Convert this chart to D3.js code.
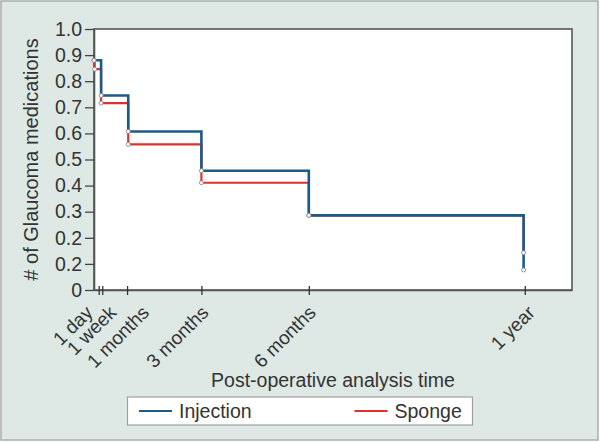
<!DOCTYPE html>
<html>
<head>
<meta charset="utf-8">
<script src="https://cdn.jsdelivr.net/npm/d3@7"></script>
<style>
  html, body { margin: 0; padding: 0; background: #fff; }
  svg { display: block; }
  text { font-family: "Liberation Sans", Arial, sans-serif; fill: #333; }
</style>
</head>
<body>
<svg id="chart" width="600" height="442"></svg>
<script>
// ---- data ----
const injectionDays   = [0, 6, 29, 91, 182, 364];
const injectionValues = [0.88, 0.745, 0.607, 0.457, 0.286, 0.077];
const spongeDays      = [0, 0.5, 6, 29, 91, 182, 364];
const spongeValues    = [0.88, 0.846, 0.716, 0.558, 0.411, 0.286, 0.143];

const xTickDays   = [4, 7, 28, 91, 182, 365];
const xTickLabels = ["1 day", "1 week", "1 months", "3 months", "6 months", "1 year"];
const yTickValues = [0, 0.1, 0.2, 0.3, 0.4, 0.5, 0.6, 0.7, 0.8, 0.9, 1.0];
const yTickLabels = ["0", "0.2", "0.2", "0.3", "0.4", "0.5", "0.6", "0.7", "0.8", "0.9", "1.0"];
const seriesNames = ["Injection", "Sponge"];
const seriesColors = ["#1b5b8a", "#e0302e"];

// ---- layout ----
const W = 600, H = 442;
const plot = { left: 94, right: 572, top: 29, bottom: 290 };
const labelShift = [-8, 12, 20, 5, 5, 8];   // horizontal nudge of rotated x labels

const svg = d3.select("#chart");

svg.append("rect").attr("x", 1).attr("y", 1).attr("width", W - 3).attr("height", H - 3)
  .attr("fill", "#dee9e5").attr("stroke", "#a8afad").attr("stroke-width", 1.5);

const x = d3.scaleLinear().domain([0, 405]).range([plot.left, plot.right]);
const y = d3.scaleLinear().domain([0, 1]).range([plot.bottom, plot.top]);

svg.append("rect").attr("x", plot.left).attr("y", plot.top)
  .attr("width", plot.right - plot.left).attr("height", plot.bottom - plot.top)
  .attr("fill", "#ffffff").attr("stroke", "#555").attr("stroke-width", 1.6);

// y axis
const yAxis = svg.append("g").attr("transform", `translate(${plot.left},0)`)
  .call(d3.axisLeft(y).tickValues(yTickValues)
    .tickFormat((d, i) => yTickLabels[i]).tickSizeInner(9).tickSizeOuter(0).tickPadding(3));
yAxis.select(".domain").attr("stroke", "#555").attr("stroke-width", 1.6);
yAxis.selectAll(".tick line").attr("stroke", "#444").attr("stroke-width", 1.3);
yAxis.selectAll(".tick text").attr("font-size", 19.5).attr("fill", "#333")
  .style("font-family", "Liberation Sans, Arial, sans-serif");

// x axis
const xAxis = svg.append("g").attr("transform", `translate(0,${plot.bottom})`)
  .call(d3.axisBottom(x).tickValues(xTickDays)
    .tickFormat((d, i) => xTickLabels[i]).tickSizeOuter(0));
xAxis.select(".domain").attr("stroke", "#555").attr("stroke-width", 1.6);
xAxis.selectAll(".tick line").attr("y1", -4).attr("y2", 5)
  .attr("stroke", "#333").attr("stroke-width", 1.3);
xAxis.selectAll(".tick text")
  .attr("font-size", 19).attr("fill", "#333")
  .style("font-family", "Liberation Sans, Arial, sans-serif")
  .attr("text-anchor", "end")
  .attr("y", 0).attr("dy", "0.35em")
  .attr("transform", (d, i) => `translate(${labelShift[i] - 2},19) rotate(-45)`);

// axis titles
svg.append("text").attr("x", (plot.left + plot.right) / 2).attr("y", 387)
  .attr("text-anchor", "middle").attr("font-size", 19.5)
  .text("Post-operative analysis time");
svg.append("text")
  .attr("transform", `translate(38,${(plot.top + plot.bottom) / 2}) rotate(-90)`)
  .attr("text-anchor", "middle").attr("font-size", 20)
  .text("# of Glaucoma medications");

// step curves
const line = d3.line().x(d => x(d[0])).y(d => y(d[1])).curve(d3.curveStepAfter);
const series = [
  { pts: d3.zip(spongeDays, spongeValues), color: seriesColors[1], w: 2.2 },
  { pts: d3.zip(injectionDays, injectionValues), color: seriesColors[0], w: 2.6 }
];
series.forEach(s => {
  svg.append("path").datum(s.pts).attr("d", line)
    .attr("fill", "none").attr("stroke", s.color).attr("stroke-width", s.w)
    .attr("stroke-linejoin", "miter");
});
series.forEach(s => {
  svg.append("g").selectAll("circle").data(s.pts).join("circle")
    .attr("cx", d => x(d[0])).attr("cy", d => y(d[1])).attr("r", 2)
    .attr("fill", "#fff").attr("stroke", "#888").attr("stroke-width", 0.9);
});

// legend
const lg = svg.append("g");
lg.append("rect").attr("x", 127.5).attr("y", 397).attr("width", 345).attr("height", 28)
  .attr("fill", "#fff").attr("stroke", "#a0a0a0").attr("stroke-width", 1.2);
const legendX = [139, 354.5];
seriesNames.forEach((name, i) => {
  lg.append("line").attr("x1", legendX[i]).attr("x2", legendX[i] + 33)
    .attr("y1", 411).attr("y2", 411)
    .attr("stroke", seriesColors[i]).attr("stroke-width", 2.2);
  lg.append("text").attr("x", legendX[i] + 40).attr("y", 418)
    .attr("font-size", 19.5).text(name);
});
</script>
</body>
</html>
